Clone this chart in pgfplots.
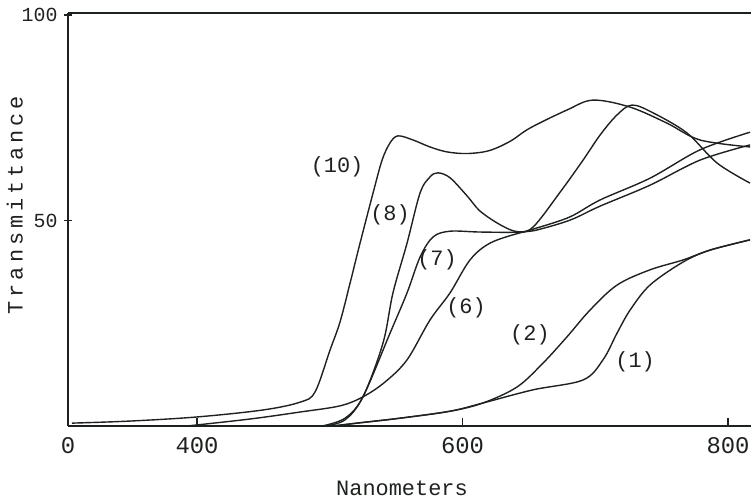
\documentclass[border=0pt]{standalone}
\usepackage{fontspec}
\setmainfont{Liberation Mono}
\usepackage{pgfplots}
\pgfplotsset{compat=1.18}
\definecolor{ink}{RGB}{30,34,30}
\begin{document}
\begin{tikzpicture}
\begin{axis}[
  at={(68bp,72bp)}, anchor=south west,
  width=683bp, height=413bp, scale only axis,
  xmin=302.8, xmax=817.3, ymin=0, ymax=100.5,
  axis x line=box, axis y line=left,
  axis line style={-, line width=1.7bp, ink},
  xtick={400,600,800}, ytick={50,100},
  yticklabels={50,100},
  xtick pos=left,
  xtick align=inside, ytick align=center,
  major tick length=8bp,
  tick style={line width=1.4bp, ink},
  extra x ticks={302.8}, extra x tick labels={0},
  extra x tick style={major tick length=0pt},
  xticklabel style={font=\fontsize{24}{26}\selectfont, text=ink, yshift=-8bp},
  yticklabel style={font=\fontsize{20}{22}\selectfont, text=ink, xshift=-3bp},
  /pgf/number format/assume math mode=true,
  xlabel={Nanometers}, ylabel={\addfontfeature{LetterSpace=18}Transmittance},
  label style={font=\fontsize{22}{24}\selectfont, text=ink},
  xlabel style={at={(axis description cs:0.489,-0.150)}, anchor=center},
  ylabel style={at={(axis description cs:-0.078,0.535)}, anchor=center},
  clip=true,
]
% (10)
\addplot[ink, line width=1.4bp, smooth, tension=0.55] coordinates {
(305.8,0.7) (349.5,1.2) (400,2.2) (449.7,3.9) (477.6,5.8) (488.9,8.3) (500.2,18.5) (507.7,25.3) (515.3,34.8) (522.8,44.5) (532.6,56.7) (539.4,64.7) (545.4,68.9) (551.4,70.6) (562.7,69.6) (575.5,67.9) (588.3,66.7) (603.4,66.3) (620,67.0) (636,69.3) (650.8,72.5) (678.7,76.9) (698.3,79.3) (726.2,77.6) (754,73.7) (778.9,69.6) (816.6,67.9)};
% (8)
\addplot[ink, line width=1.4bp, smooth, tension=0.55] coordinates {
(494.2,0) (511.5,1.9) (525,7.1) (540.1,20.2) (547.6,32.4) (558.2,44.5) (568,56.7) (575.5,60.6) (581.5,61.6) (590.6,60.4) (603.4,56.0) (613.2,52.3) (628.2,49.0) (641.1,47.3) (653.1,48.4) (673.5,56.9) (690.8,64.7) (703.6,70.8) (716.4,75.7) (727.7,78.1) (743.5,76.2) (769.1,71.3) (791.7,64.0) (816.6,59.1)};
% (7)
\addplot[ink, line width=1.4bp, smooth, tension=0.55] coordinates {
(496.4,0) (511.5,1.5) (525,7.1) (545.4,22.6) (558.2,32.4) (568,41.1) (577.8,46.0) (590.6,47.4) (613.2,47.2) (643.3,47.2) (656.1,48.2) (681,50.9) (703.6,55.0) (741.2,60.3) (778.9,67.2) (816.6,71.5)};
% (6)
\addplot[ink, line width=1.4bp, smooth, tension=0.55] coordinates {
(392.5,0) (439.9,1.7) (477.6,3.4) (507.7,4.9) (525,7.1) (541.6,10.7) (558.2,16.1) (575.5,25.8) (590.6,32.4) (605.6,40.4) (620.7,44.5) (643.3,47.0) (656.1,47.7) (681,50.1) (703.6,53.5) (741.2,58.6) (778.9,64.7) (816.6,68.4)};
% (2)
\addplot[ink, line width=1.4bp, smooth, tension=0.55] coordinates {
(502.4,0) (520.5,0.7) (552.9,1.9) (590.6,3.6) (615.4,5.6) (641.1,9.5) (660.6,15.3) (678.7,21.7) (696,28.2) (716.4,34.3) (741.2,38.0) (766.1,40.4) (786.4,42.8) (816.6,45.3)};
% (1)
\addplot[ink, line width=1.4bp, smooth, tension=0.55] coordinates {
(502.4,0) (520.5,0.7) (552.9,1.9) (590.6,3.6) (615.4,5.6) (653.1,8.8) (690.8,11.2) (705.8,16.1) (716.4,22.6) (726.2,28.2) (741.2,34.3) (766.1,39.9) (786.4,42.8) (816.6,45.3)};
\begin{scope}[every node/.style={font=\fontsize{22}{24}\selectfont, text=ink}]
\node at (axis cs:505.5,63.0) {(10)};
\node at (axis cs:545.4,51.3) {(8)};
\node at (axis cs:580.8,40.4) {(7)};
\node at (axis cs:602.6,28.7) {(6)};
\node at (axis cs:650.8,22.1) {(2)};
\node at (axis cs:730.0,15.6) {(1)};
\end{scope}
\end{axis}
\pgfresetboundingbox
\useasboundingbox (0bp,0bp) rectangle (751bp,498bp);
\end{tikzpicture}
\end{document}
